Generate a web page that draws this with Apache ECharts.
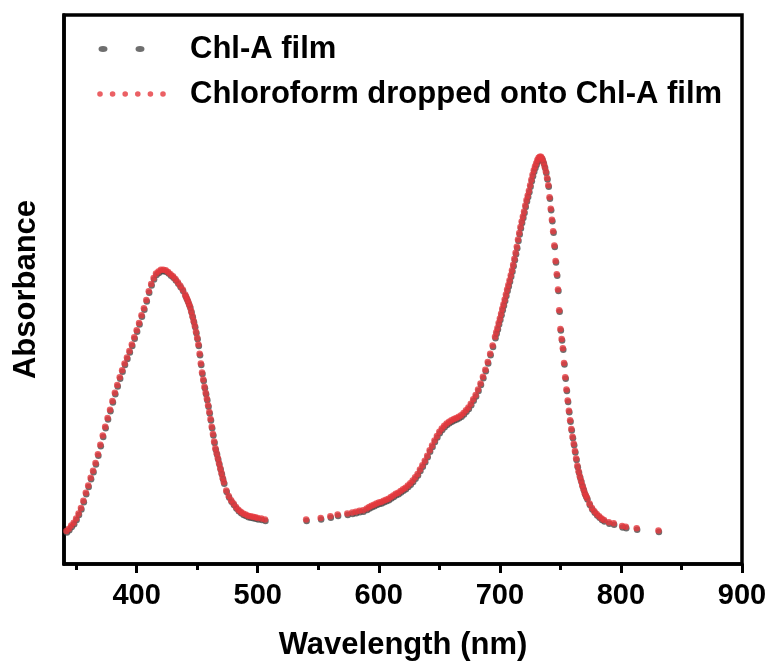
<!DOCTYPE html>
<html>
<head>
<meta charset="utf-8">
<script src="https://cdn.jsdelivr.net/npm/echarts@6/dist/echarts.min.js"></script>
<style>
  html, body { margin: 0; padding: 0; background: #fff; }
  #chart { width: 772px; height: 664px; }
</style>
</head>
<body>
<div id="chart"></div>
<script>
// wavelengths (nm), with the gap between ~506 and ~540 nm
const wavelength = [
  342, 344, 346, 348, 350, 352, 354, 356, 358, 360, 362, 364, 366, 368, 370, 372, 374, 376, 378, 380,
  382, 384, 386, 388, 390, 392, 394, 396, 398, 400, 402, 404, 406, 408, 410, 412, 414, 416, 418, 420,
  422, 424, 426, 428, 430, 432, 434, 436, 438,
  440, 441, 442, 443, 444, 445, 446, 447, 448, 449, 450, 451, 452, 453, 454, 455, 456, 457, 458, 459,
  460, 461, 462, 463, 464, 465, 466, 467, 468, 469, 470, 471, 472,
  474, 476, 478, 480, 482, 484, 486, 488, 490, 492, 494, 496, 498, 500, 503, 506,
  540, 552, 560, 566, 574, 578, 581, 584, 587,
  590, 592, 594, 596, 598, 600, 602, 604, 606, 608, 610, 612, 614, 616, 618, 620, 622, 624, 626, 628,
  630, 632, 634, 636, 638, 640, 642, 644, 646, 648, 650, 652, 654, 656, 658, 660, 662, 664, 666, 668,
  670, 672, 674, 676, 678, 680, 682, 684, 686, 688, 690, 692, 694,
  696, 697, 698, 699, 700, 701, 702, 703, 704, 705, 706, 707, 708, 709, 710, 711, 712, 713, 714, 715,
  716, 717, 718, 719, 720, 721, 722, 723, 724, 725, 726, 727, 728, 729, 730, 731, 732, 733, 734, 735,
  736, 737, 738, 739, 740, 741, 742, 743, 744, 745, 746, 747, 748, 749, 750, 751, 752, 753, 754, 755,
  756, 757, 758, 759, 760, 761, 762, 763, 764, 765, 766, 767, 768, 769, 770, 771, 772,
  774, 776, 778, 780, 782, 784, 786, 790, 794, 801, 804, 813, 831
];

// absorbance (arb. units); the two films' traces lie on top of each other within a pixel
const absorbance = [
  0.060, 0.064, 0.070, 0.075, 0.083, 0.092, 0.102, 0.115, 0.130, 0.143, 0.157, 0.170, 0.184, 0.200, 0.217, 0.234, 0.250, 0.266, 0.281, 0.297,
  0.312, 0.326, 0.340, 0.353, 0.365, 0.376, 0.388, 0.400, 0.413, 0.426, 0.439, 0.453, 0.466, 0.481, 0.497, 0.510, 0.521, 0.529, 0.533, 0.536,
  0.536, 0.535, 0.532, 0.528, 0.524, 0.519, 0.513, 0.507, 0.500,
  0.491, 0.486, 0.481, 0.475, 0.469, 0.461, 0.452, 0.443, 0.434, 0.423, 0.412, 0.400, 0.383, 0.365, 0.349, 0.336, 0.323, 0.312, 0.301, 0.289,
  0.277, 0.264, 0.250, 0.237, 0.223, 0.211, 0.202, 0.193, 0.184, 0.175, 0.166, 0.157, 0.149,
  0.134, 0.124, 0.116, 0.110, 0.104, 0.099, 0.095, 0.092, 0.090, 0.088, 0.087, 0.086, 0.085, 0.084, 0.083, 0.081,
  0.081, 0.084, 0.087, 0.090, 0.092, 0.094, 0.095, 0.097, 0.098,
  0.101, 0.104, 0.106, 0.108, 0.110, 0.112, 0.113, 0.115, 0.117, 0.119, 0.122, 0.125, 0.128, 0.130, 0.133, 0.136, 0.139, 0.143, 0.147, 0.152,
  0.158, 0.164, 0.172, 0.180, 0.188, 0.197, 0.207, 0.216, 0.225, 0.233, 0.241, 0.247, 0.252, 0.256, 0.259, 0.262, 0.264, 0.266, 0.268, 0.271,
  0.275, 0.280, 0.285, 0.292, 0.300, 0.308, 0.318, 0.329, 0.341, 0.354, 0.368, 0.383, 0.398,
  0.414, 0.422, 0.430, 0.439, 0.447, 0.456, 0.465, 0.473, 0.482, 0.491, 0.500, 0.508, 0.517, 0.526, 0.535, 0.545, 0.556, 0.567, 0.578, 0.591,
  0.603, 0.614, 0.624, 0.633, 0.642, 0.653, 0.663, 0.671, 0.680, 0.690, 0.700, 0.709, 0.717, 0.724, 0.730, 0.736, 0.740, 0.742, 0.742, 0.738,
  0.732, 0.724, 0.715, 0.703, 0.690, 0.668, 0.647, 0.627, 0.606, 0.580, 0.552, 0.528, 0.500, 0.462, 0.428, 0.410, 0.393, 0.366, 0.340, 0.318,
  0.298, 0.279, 0.262, 0.246, 0.232, 0.219, 0.206, 0.192, 0.179, 0.169, 0.160, 0.152, 0.144, 0.137, 0.130, 0.125, 0.120,
  0.110, 0.102, 0.096, 0.091, 0.087, 0.083, 0.080, 0.076, 0.074, 0.069, 0.068, 0.065, 0.061
];

const seriesNames = ['Chl-A film', 'Chloroform dropped onto Chl-A film'];
const majorTicks = [400, 500, 600, 700, 800, 900];
const minorTicks = [350, 450, 550, 650, 750, 850];

const chlAFilm = wavelength.map((w, i) => [w, absorbance[i]]);
const chloroformFilm = wavelength.map((w, i) => [w, absorbance[i]]);

const FONT = "'Liberation Sans', Arial, sans-serif";

// legend icons: 88 wide, tiny end dots only fix the box
const dot = (cx, cy, rx, ry) =>
  'M' + (cx - rx) + ' ' + cy + ' a' + rx + ' ' + ry + ' 0 1 0 ' + (2 * rx) + ' 0 a' + rx + ' ' + ry + ' 0 1 0 ' + (-2 * rx) + ' 0 Z ';
const boxEnds = dot(0.05, 3, 0.05, 0.05) + dot(87.95, 3, 0.05, 0.05);
const grayIcon = 'path://' + boxEnds + dot(6, 3, 4.5, 3) + dot(43, 3, 4.5, 3);
let redPath = boxEnds;
for (let k = 0; k < 6; k++) redPath += dot(3 + k * 12.6, 3, 2.8, 2.8);
const redIcon = 'path://' + redPath;

const legendText = { fontSize: 31, fontWeight: 'bold', fontFamily: FONT, color: '#000', lineHeight: 36 };

const chart = echarts.init(document.getElementById('chart'));
chart.setOption({
  animation: false,
  backgroundColor: '#fff',
  grid: {
    left: 64, right: 30, top: 15, bottom: 100,
    outerBoundsMode: 'none', containLabel: false,
    show: true, borderColor: '#000', borderWidth: 3.5, backgroundColor: 'transparent'
  },
  legend: [
    {
      data: [{ name: seriesNames[0], icon: grayIcon }],
      left: 92, top: 26, itemWidth: 88, itemHeight: 6,
      textStyle: legendText, selectedMode: false
    },
    {
      data: [{ name: seriesNames[1], icon: redIcon }],
      left: 92, top: 71, itemWidth: 88, itemHeight: 6,
      textStyle: legendText, selectedMode: false
    }
  ],
  xAxis: [
    {
      type: 'value', min: 340, max: 900,
      name: 'Wavelength (nm)', nameLocation: 'middle', nameGap: 66,
      nameTextStyle: { fontSize: 31, fontWeight: 'bold', fontFamily: FONT, color: '#000' },
      axisLine: { show: true, lineStyle: { color: '#000', width: 3.5 } },
      axisTick: { show: true, inside: false, length: 9, lineStyle: { color: '#000', width: 3 }, customValues: majorTicks },
      axisLabel: { show: true, margin: 17, fontSize: 29, fontWeight: 'bold', fontFamily: FONT, color: '#000', customValues: majorTicks },
      splitLine: { show: false }
    },
    {
      type: 'value', min: 340, max: 900, position: 'bottom', offset: 0,
      axisLine: { show: false },
      axisTick: { show: true, inside: false, length: 6, lineStyle: { color: '#000', width: 3 }, customValues: minorTicks },
      axisLabel: { show: false },
      splitLine: { show: false }
    }
  ],
  yAxis: {
    type: 'value', min: 0, max: 1,
    name: 'Absorbance', nameLocation: 'middle', nameGap: 22, nameRotate: 90,
    nameTextStyle: { fontSize: 31, fontWeight: 'bold', fontFamily: FONT, color: '#000' },
    axisLine: { show: true, lineStyle: { color: '#000', width: 3.5 } },
    axisTick: { show: false },
    axisLabel: { show: false },
    splitLine: { show: false }
  },
  series: [
    {
      name: seriesNames[0], type: 'scatter', data: chlAFilm,
      symbol: 'circle', symbolSize: 6.5, symbolOffset: [0.5, 1.5],
      itemStyle: { color: '#4a4a4a' }, emphasis: { disabled: true }
    },
    {
      name: seriesNames[1], type: 'scatter', data: chloroformFilm,
      symbol: 'circle', symbolSize: 6.5,
      itemStyle: { color: '#e6383d' }, emphasis: { disabled: true }
    }
  ]
});
</script>
</body>
</html>
